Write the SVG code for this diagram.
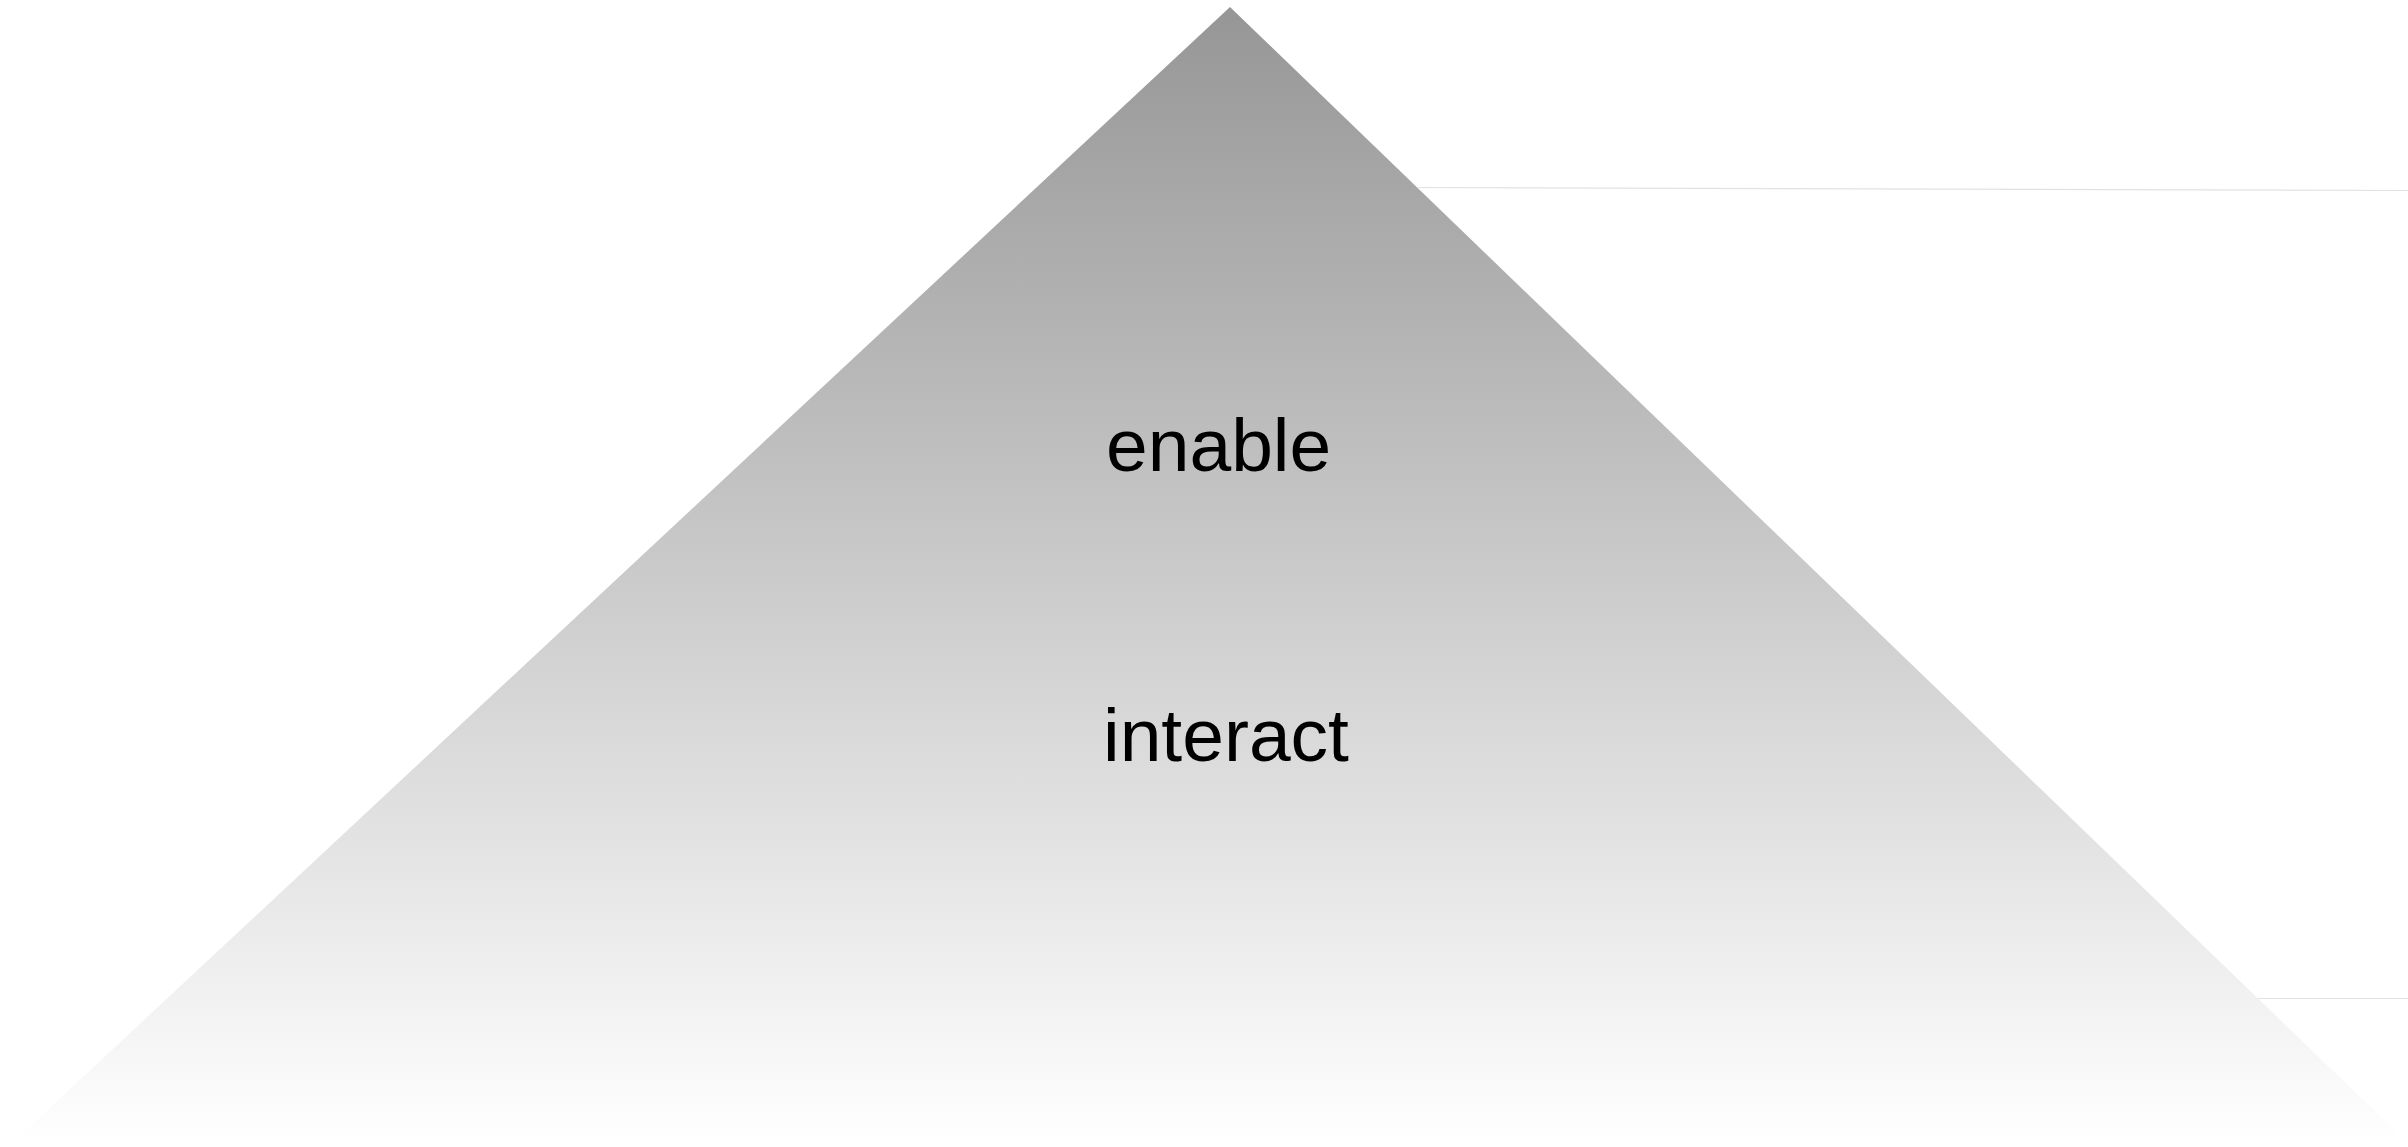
<svg xmlns="http://www.w3.org/2000/svg" width="2408" height="1147" viewBox="0 0 2408 1147">
  <defs>
    <linearGradient id="pyramidFill" gradientUnits="userSpaceOnUse" x1="0" y1="7" x2="0" y2="1145">
      <stop offset="0" stop-color="#969696"/>
      <stop offset="1" stop-color="#ffffff"/>
    </linearGradient>
    <style>
      .label { font-family: "Liberation Sans", Arial, Helvetica, sans-serif; font-size: 75px; fill: #000000; }
      .guide { stroke: #e2e2e2; stroke-width: 1.2; fill: none; }
    </style>
  </defs>
  <rect width="2408" height="1147" fill="#ffffff"/>

  <!-- level guide lines to the right of the pyramid -->
  <g id="guides">
    <line class="guide" x1="1418" y1="187.5" x2="2408" y2="190.5"/>
    <line class="guide" x1="2247" y1="998.5" x2="2408" y2="998.5"/>
  </g>

  <g id="pyramid">
    <polygon points="1230,7 10,1145 2412,1147" fill="url(#pyramidFill)"/>
  </g>

  <g id="enable">
    <text class="label" x="1106" y="471">enable</text>
  </g>

  <g id="interact">
    <text class="label" x="1103" y="761">interact</text>
  </g>
</svg>
